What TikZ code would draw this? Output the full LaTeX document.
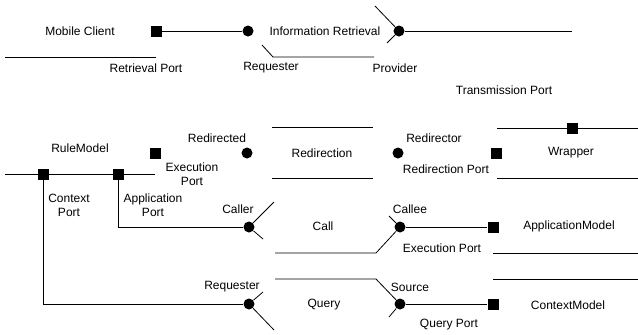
\documentclass[tikz,border=0pt]{standalone}
\usepackage{fontspec}
\setmainfont{Liberation Sans}
\usetikzlibrary{positioning}

\begin{document}
\begin{tikzpicture}[x=1pt, y=-1pt, font=\fontsize{12}{14}\selectfont, line width=0.8pt]
\useasboundingbox (0,0) rectangle (638,335);
\tikzset{port/.style={rectangle, fill=black, minimum size=11pt, inner sep=0pt},
  role/.style={circle, fill=black, minimum size=11pt, inner sep=0pt},
  lbl/.style={inner sep=0pt, align=center}}

\node[lbl] (mobile) at (80,31) {Mobile Client};
\node[lbl] (inforet) at (325,31) {Information Retrieval};
\node[lbl] (retport) at (146,68) {Retrieval Port};
\node[lbl] (reqtop) at (271,68) {Requester};
\node[lbl] (provider) at (395,68) {Provider};
\node[lbl] (transport) at (504,90) {Transmission Port};
\node[port] (pRet) at (156,31) {};
\node[role] (rReq) at (248,31) {};
\node[role] (rProv) at (399,31) {};
\coordinate (cTrans) at (572,31);
\draw (5,57) -- (156,57);
\draw (pRet) -- (rReq);
\draw (262,45) -- (273,57) -- (374,57);
\draw (375,6) -- (rProv);
\draw (387,43) -- (rProv);
\draw (rProv) -- (cTrans);

\node[lbl] (rulemodel) at (80,148) {RuleModel};
\node[lbl] (ctxport) at (69,205) {Context\\Port};
\node[lbl] (appport) at (153,205) {Application\\Port};
\node[lbl] (execport) at (192,174) {Execution\\Port};
\node[lbl] (redirected) at (217,138) {Redirected};
\node[lbl] (redirection) at (322,153) {Redirection};
\node[lbl] (redirector) at (434,138) {Redirector};
\node[lbl] (redport) at (446,169) {Redirection Port};
\node[lbl] (wrapper) at (571,153) {Wrapper};
\draw (5,174) -- (155,174);
\node[port] (pCtx) at (43,174) {};
\node[port] (pApp) at (118,174) {};
\node[port] (pExec) at (155,153) {};
\node[role] (rRedd) at (247,153) {};
\node[role] (rRedr) at (398,153) {};
\node[port] (pRedir) at (496,153) {};
\foreach \y in {127,178} {\draw (272,\y) -- (373,\y);}
\foreach \y in {128,178} {\draw (497,\y) -- (638,\y);}
\node[port] (pTrans) at (572,128) {};

\node[lbl] (caller) at (238,209) {Caller};
\node[lbl] (call) at (323,226) {Call};
\node[lbl] (callee) at (410,209) {Callee};
\node[lbl] (execport2) at (442,248) {Execution Port};
\node[lbl] (appmodel) at (569,226) {ApplicationModel};
\node[lbl] (reqbot) at (232,287) {Requester};
\node[lbl] (query) at (324,305) {Query};
\node[lbl] (source) at (410,287) {Source};
\node[lbl] (queryport) at (449,325) {Query Port};
\node[lbl] (ctxmodel) at (568,305) {ContextModel};
\node[role] (rCaller) at (249,227) {};
\node[role] (rCallee) at (400,227) {};
\node[port] (pAppM) at (493,227) {};
\node[role] (rQReq) at (249,304) {};
\node[role] (rSrc) at (400,304) {};
\node[port] (pQuery) at (493,304) {};
\draw (pApp) |- (rCaller);
\draw (pCtx) |- (rQReq);
\draw (274,202) -- (rCaller);
\draw (263,239) -- (rCaller);
\draw (275,253) -- (376,253) -- (rCallee);
\draw (389,216) -- (rCallee);
\draw (rCallee) -- (pAppM);
\foreach \y in {253,279} {\draw (493,\y) -- (638,\y);}
\draw (263,292) -- (rQReq);
\draw (274,330) -- (rQReq);
\draw (275,279) -- (376,279) -- (rSrc);
\draw (389,317) -- (rSrc);
\draw (rSrc) -- (pQuery);
\end{tikzpicture}
\end{document}
